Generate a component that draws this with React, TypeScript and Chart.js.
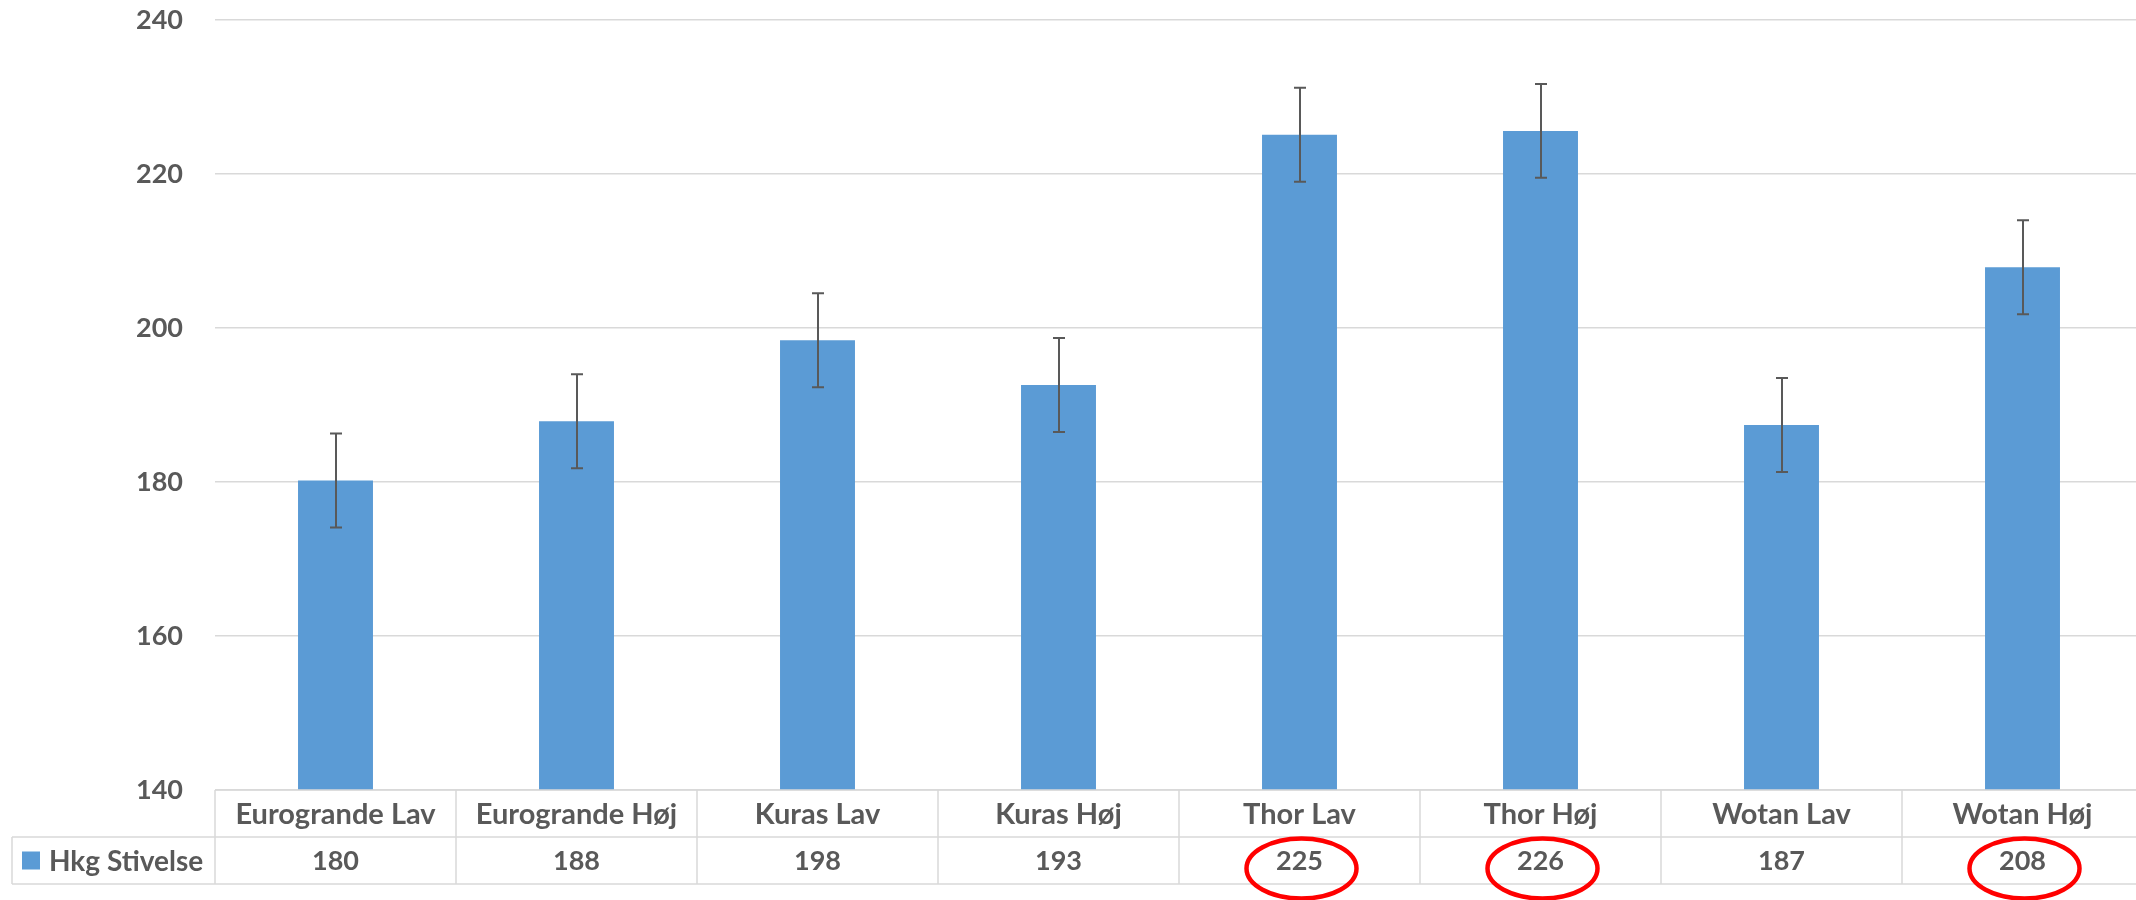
import React, { useEffect, useRef } from "react";
import { Chart, registerables } from "chart.js";

Chart.register(...registerables);

const categories = [
  "Eurogrande Lav",
  "Eurogrande Høj",
  "Kuras Lav",
  "Kuras Høj",
  "Thor Lav",
  "Thor Høj",
  "Wotan Lav",
  "Wotan Høj",
];
const seriesName = "Hkg Stivelse";
const values = [180.2, 187.9, 198.4, 192.6, 225.1, 225.6, 187.4, 207.9];
const errors = [6.1, 6.1, 6.1, 6.1, 6.1, 6.1, 6.1, 6.1];
const highlighted = ["Thor Lav", "Thor Høj", "Wotan Høj"];
const yMin = 140;
const yMax = 240;
const yStep = 20;

const BAR_COLOR = "#5B9BD5";
const TEXT_COLOR = "#595959";
const GRID_COLOR = "#D9D9D9";
const FONT = "Lato, 'Open Sans', sans-serif";

const tablePlugin = {
  id: "dataTableAndErrors",
  afterDatasetsDraw(chart: any) {
    const ctx = chart.ctx;
    const meta = chart.getDatasetMeta(0);
    const y = chart.scales.y;
    ctx.save();
    ctx.strokeStyle = "#595959";
    ctx.lineWidth = 2;
    meta.data.forEach((bar: any, i: number) => {
      const x = Math.round(bar.x);
      const top = y.getPixelForValue(values[i] + errors[i]);
      const bot = y.getPixelForValue(values[i] - errors[i]);
      ctx.beginPath();
      ctx.moveTo(x, top);
      ctx.lineTo(x, bot);
      ctx.moveTo(x - 6, top);
      ctx.lineTo(x + 6, top);
      ctx.moveTo(x - 6, bot);
      ctx.lineTo(x + 6, bot);
      ctx.stroke();
    });
    ctx.restore();
  },
  afterDraw(chart: any) {
    const ctx = chart.ctx;
    const area = chart.chartArea;
    const n = categories.length;
    const colW = (area.right - area.left) / n;
    const top = area.bottom;
    const rowH = 47;
    const mid = top + rowH;
    const bottom = mid + rowH;
    const legendLeft = 12;

    ctx.save();
    ctx.strokeStyle = GRID_COLOR;
    ctx.lineWidth = 1.5;
    ctx.beginPath();
    ctx.moveTo(area.left, top);
    ctx.lineTo(area.right, top);
    ctx.moveTo(legendLeft, mid);
    ctx.lineTo(area.right, mid);
    ctx.moveTo(legendLeft, bottom);
    ctx.lineTo(area.right, bottom);
    ctx.moveTo(legendLeft, mid);
    ctx.lineTo(legendLeft, bottom);
    for (let i = 0; i <= n; i++) {
      const x = area.left + i * colW;
      ctx.moveTo(x, top);
      ctx.lineTo(x, bottom);
    }
    ctx.stroke();

    ctx.fillStyle = TEXT_COLOR;
    ctx.textAlign = "center";
    ctx.textBaseline = "middle";
    for (let i = 0; i < n; i++) {
      const cx = area.left + (i + 0.5) * colW;
      ctx.font = `bold 29px ${FONT}`;
      ctx.fillText(categories[i], cx, (top + mid) / 2 + 1);
      ctx.font = `bold 27px ${FONT}`;
      ctx.fillText(String(Math.round(values[i])), cx, (mid + bottom) / 2 + 1);
    }

    ctx.fillStyle = BAR_COLOR;
    ctx.fillRect(22, (mid + bottom) / 2 - 9, 18, 18);
    ctx.fillStyle = TEXT_COLOR;
    ctx.textAlign = "left";
    ctx.font = `bold 28px ${FONT}`;
    ctx.fillText(seriesName, 49, (mid + bottom) / 2 + 1);

    ctx.strokeStyle = "#FF0000";
    ctx.lineWidth = 4.5;
    highlighted.forEach((name) => {
      const i = categories.indexOf(name);
      if (i < 0) return;
      const cx = area.left + (i + 0.5) * colW + 2;
      ctx.beginPath();
      ctx.ellipse(cx, (mid + bottom) / 2 + 8, 55, 30, 0, 0, Math.PI * 2);
      ctx.stroke();
    });
    ctx.restore();
  },
};

export default function App() {
  const ref = useRef<HTMLCanvasElement | null>(null);
  useEffect(() => {
    document.body.style.margin = "0";
    const canvas = ref.current;
    if (!canvas) return;
    const chart = new Chart(canvas, {
      type: "bar",
      data: {
        labels: categories,
        datasets: [
          {
            label: seriesName,
            data: values,
            backgroundColor: BAR_COLOR,
            barPercentage: 0.311,
            categoryPercentage: 1,
          },
        ],
      },
      options: {
        animation: false,
        responsive: false,
        devicePixelRatio: 1,
        layout: { padding: { top: 20, bottom: 110, left: 0, right: 1 } },
        plugins: { legend: { display: false }, tooltip: { enabled: false } },
        scales: {
          x: { display: false },
          y: {
            min: yMin,
            max: yMax,
            afterFit: (scale: any) => {
              scale.width = 215;
              scale.paddingTop = 0;
              scale.paddingBottom = 0;
            },
            ticks: {
              stepSize: yStep,
              padding: 32,
              color: TEXT_COLOR,
              font: { family: FONT, size: 27, weight: "bold" },
            },
            grid: { color: GRID_COLOR, lineWidth: 1.5, drawTicks: false },
            border: { display: false },
          },
        },
      },
      plugins: [tablePlugin],
    });
    return () => chart.destroy();
  }, []);
  return (
    <div style={{ width: 2136, height: 900, overflow: "hidden", background: "#fff" }}>
      <canvas ref={ref} width={2144} height={900} style={{ display: "block" }} />
    </div>
  );
}
